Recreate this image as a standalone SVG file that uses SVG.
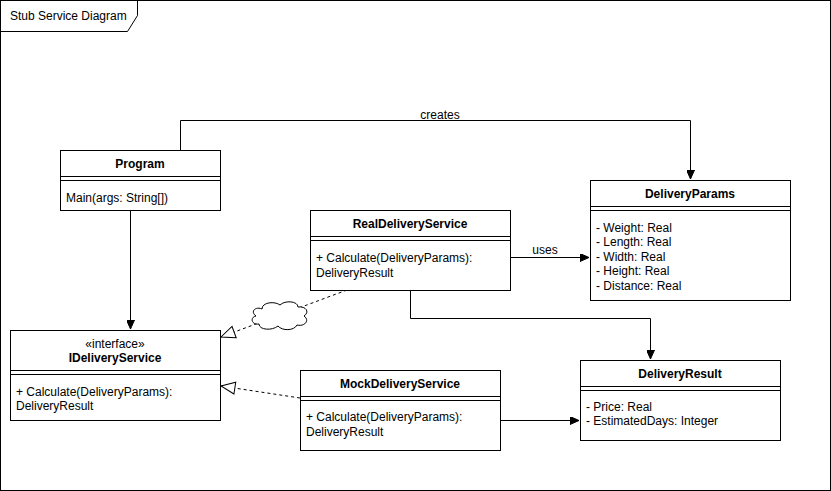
<svg xmlns="http://www.w3.org/2000/svg" width="831" height="491" viewBox="0 0 831 491">
<style>
text{font-family:"Liberation Sans",Arial,sans-serif;font-size:12px;fill:#000}
.t{font-weight:bold;text-anchor:middle}
.c{text-anchor:middle}
.box{fill:#fff;stroke:#000;stroke-width:1}
.ln{fill:none;stroke:#000;stroke-width:1}
.dash{fill:none;stroke:#000;stroke-width:1;stroke-dasharray:3 3}
</style>
<defs>
<marker id="fa" markerWidth="10" markerHeight="8" refX="9" refY="4" orient="auto" markerUnits="userSpaceOnUse">
<path d="M0,0 L9,4 L0,8 Z" fill="#000" stroke="#000"/>
</marker>
<marker id="ht" markerWidth="16" markerHeight="14" refX="15" refY="7" orient="auto" markerUnits="userSpaceOnUse">
<path d="M1,1 L15,7 L1,13 Z" fill="#fff" stroke="#000"/>
</marker>
</defs>
<rect width="831" height="491" fill="#fff"/>
<g id="frame">
<rect x="0.5" y="0.5" width="830" height="490" class="ln"/>
<path d="M0.5,31.5 H127.5 L137.5,15.5 V0.5" class="ln"/>
<text x="10" y="20">Stub Service Diagram</text>
</g>
<g id="connectors">
<path d="M180.5,150 V120.5 H690.5 V179" class="ln" marker-end="url(#fa)"/>
<text x="440" y="119" class="c">creates</text>
<path d="M510,257.5 H589" class="ln" marker-end="url(#fa)"/>
<text x="545" y="254" class="c">uses</text>
<path d="M410.5,290 V318.5 H650.5 V359" class="ln" marker-end="url(#fa)"/>
<path d="M130.5,210 V329" class="ln" marker-end="url(#fa)"/>
<path d="M500,420.5 H579" class="ln" marker-end="url(#fa)"/>
<path d="M300,398 L221,386" class="dash" marker-end="url(#ht)"/>
<path d="M347,290 L221,337" class="dash" marker-end="url(#ht)"/>
<path d="M262,309 C262,302 275,301 280,305 C285,300 298,301 298,307 C306,306 310,312 304,316 C310,320 305,327 297,325 C294,331 282,331 278,326 C272,331 259,330 259,324 C251,325 250,317 256,316 C250,312 255,306 262,309 Z" fill="#fff" stroke="#000"/>
</g>
<g id="Program">
<rect x="60.5" y="150.5" width="160" height="60" class="box"/>
<path d="M60.5,176.5 H220.5 M60.5,180.5 H220.5" class="ln"/>
<text x="140" y="168" class="t">Program</text>
<text x="66" y="202">Main(args: String[])</text>
</g>
<g id="DeliveryParams">
<rect x="590.5" y="180.5" width="200" height="120" class="box"/>
<path d="M590.5,206.5 H790.5 M590.5,210.5 H790.5" class="ln"/>
<text x="690" y="198" class="t">DeliveryParams</text>
<text x="596" y="232">- Weight: Real</text>
<text x="596" y="246">- Length: Real</text>
<text x="596" y="261">- Width: Real</text>
<text x="596" y="275">- Height: Real</text>
<text x="596" y="290">- Distance: Real</text>
</g>
<g id="RealDeliveryService">
<rect x="310.5" y="210.5" width="200" height="80" class="box"/>
<path d="M310.5,236.5 H510.5 M310.5,240.5 H510.5" class="ln"/>
<text x="410" y="228" class="t">RealDeliveryService</text>
<text x="316" y="262">+ Calculate(DeliveryParams):</text>
<text x="316" y="277">DeliveryResult</text>
</g>
<g id="IDeliveryService">
<rect x="10.5" y="330.5" width="210" height="90" class="box"/>
<path d="M10.5,370.5 H220.5 M10.5,374.5 H220.5" class="ln"/>
<text x="115" y="348" class="c" font-size="11">«interface»</text>
<text x="115" y="362" class="t">IDeliveryService</text>
<text x="16" y="396">+ Calculate(DeliveryParams):</text>
<text x="16" y="410">DeliveryResult</text>
</g>
<g id="MockDeliveryService">
<rect x="300.5" y="370.5" width="200" height="80" class="box"/>
<path d="M300.5,396.5 H500.5 M300.5,400.5 H500.5" class="ln"/>
<text x="400" y="388" class="t">MockDeliveryService</text>
<text x="306" y="421">+ Calculate(DeliveryParams):</text>
<text x="306" y="436">DeliveryResult</text>
</g>
<g id="DeliveryResult">
<rect x="580.5" y="360.5" width="200" height="80" class="box"/>
<path d="M580.5,386.5 H780.5 M580.5,390.5 H780.5" class="ln"/>
<text x="680" y="378" class="t">DeliveryResult</text>
<text x="586" y="411">- Price: Real</text>
<text x="586" y="425">- EstimatedDays: Integer</text>
</g>
</svg>
